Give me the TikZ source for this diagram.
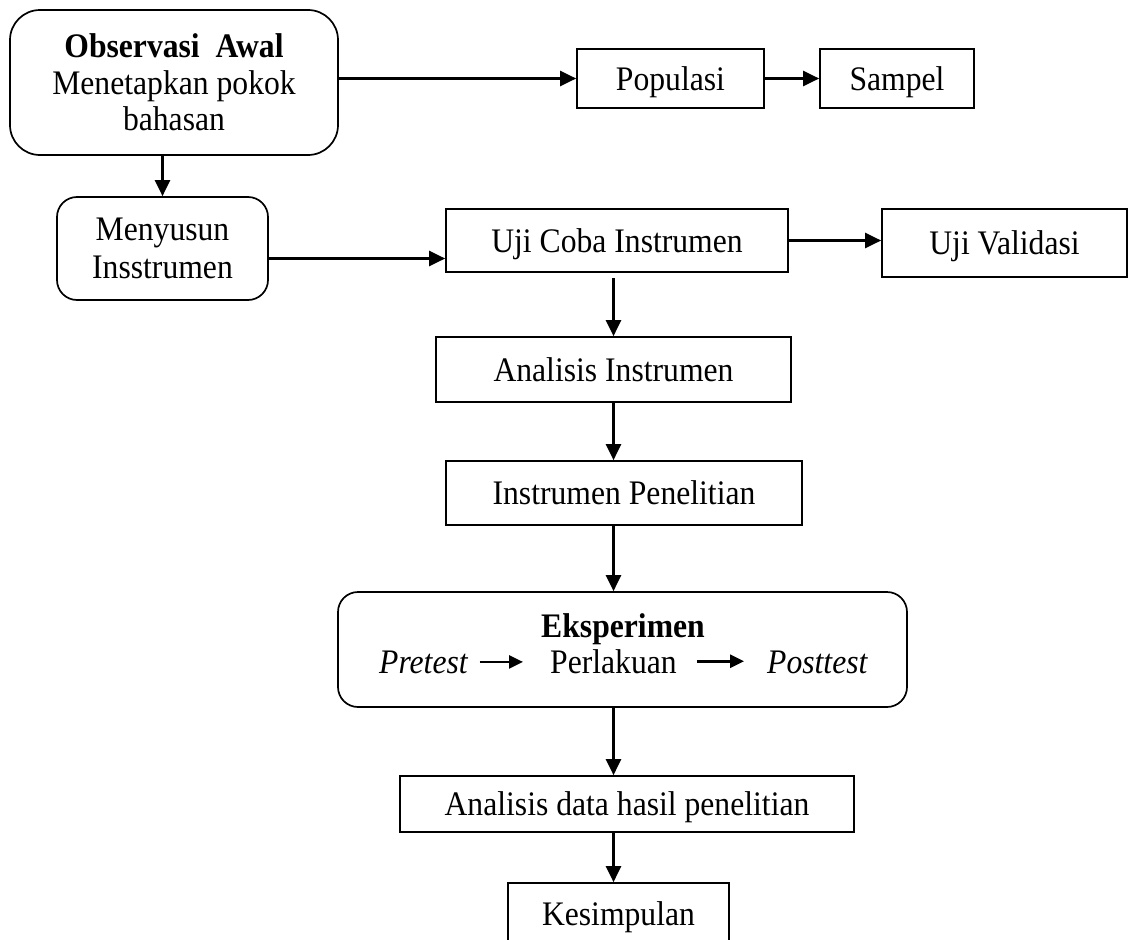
\documentclass[tikz,border=0pt]{standalone}
\usepackage{fontspec}
\setmainfont{Liberation Serif}[FakeStretch=0.92]
\usetikzlibrary{arrows.meta}
\tikzset{
  frame/.style={draw,line width=1.7bp,inner sep=0pt,align=center},
  box/.style={frame,text height=23bp,text depth=0pt},
  rbox/.style={frame,rounded corners=#1},
  rbox/.default=20bp,
  flow/.style={line width=2.4bp,-{Triangle[length=16bp,width=15bp]}},
  small flow/.style={line width=2.6bp,-{Triangle[length=14bp,width=13bp]}},
  plain/.style={inner sep=0pt},
}
\begin{document}
\begin{tikzpicture}[font=\fontsize{34.4bp}{36.5bp}\selectfont]
\useasboundingbox (0bp,0bp) rectangle (1129bp,-940bp);
%%
\node (obs) at (174bp,-82.5bp) [rbox=30bp,minimum width=328bp,minimum height=145bp] {\textbf{Observasi\ \ Awal}\\Menetapkan pokok\\bahasan};
  \node (pop) at (670.5bp,-78.5bp) [box,minimum width=187bp,minimum height=59bp] {Populasi};
  \node (samp) at (897bp,-78.5bp) [box,minimum width=154bp,minimum height=59bp] {Sampel};
  \node (meny) at (162.5bp,-248.5bp) [rbox,minimum width=211bp,minimum height=103bp] {Menyusun\\[1.5bp]Insstrumen};
  \node (uji) at (617bp,-240.5bp) [box,minimum width=342bp,minimum height=63bp] {Uji Coba Instrumen};
  \node (valid) at (1004.5bp,-243bp) [box,minimum width=245bp,minimum height=68bp] {Uji Validasi};
  \node (anains) at (613.5bp,-369.5bp) [box,minimum width=355bp,minimum height=65bp] {Analisis Instrumen};
  \node (inspen) at (624bp,-493bp) [box,minimum width=356bp,minimum height=64bp] {Instrumen Penelitian};
  \node (eks) at (622.5bp,-649.5bp) [rbox,minimum width=569bp,minimum height=115bp] {};
  \node (eks_t) at (623bp,-637bp) [plain,anchor=base] {\textbf{Eksperimen}};
  \node (pre) at (379bp,-673bp) [plain,anchor=base west] {\textit{Pretest}};
  \node (perl) at (550bp,-673bp) [plain,anchor=base west] {Perlakuan};
  \node (post) at (767bp,-673bp) [plain,anchor=base west] {\textit{Posttest}};
  \node (anadata) at (627bp,-804bp) [box,minimum width=454bp,minimum height=56bp] {Analisis data hasil penelitian};
  \node (kes) at (618.5bp,-914bp) [box,minimum width=221bp,minimum height=62bp] {Kesimpulan};
  % connectors
  \draw [flow] (obs.east |- pop.west) -- (pop.west);
  \draw [flow] (pop.east) -- (samp.west);
  \draw [flow] (obs.south -| meny.north) -- (meny.north);
  \draw [flow] ([yshift=-10bp]meny.east) -- ([yshift=-10bp]meny.east -| uji.west);
  \draw [flow] (uji.east) -- (uji.east -| valid.west);
  \draw [flow,shorten <=5bp] (anains.north |- uji.south) -- (anains.north);
  \draw [flow] (anains.south) -- (anains.south |- inspen.north);
  \draw [flow] (anains.south |- inspen.south) -- (anains.south |- eks.north);
  \draw [flow] (anains.south |- eks.south) -- (anains.south |- anadata.north);
  \draw [flow] (anains.south |- anadata.south) -- (anains.south |- kes.north);
  \draw [small flow,shorten <=11bp,shorten >=27bp] (pre.east) -- (pre.east -| perl.west);
  \draw [small flow,shorten <=20bp,shorten >=23bp] (perl.east) -- (perl.east -| post.west);
%
\end{tikzpicture}
\end{document}
